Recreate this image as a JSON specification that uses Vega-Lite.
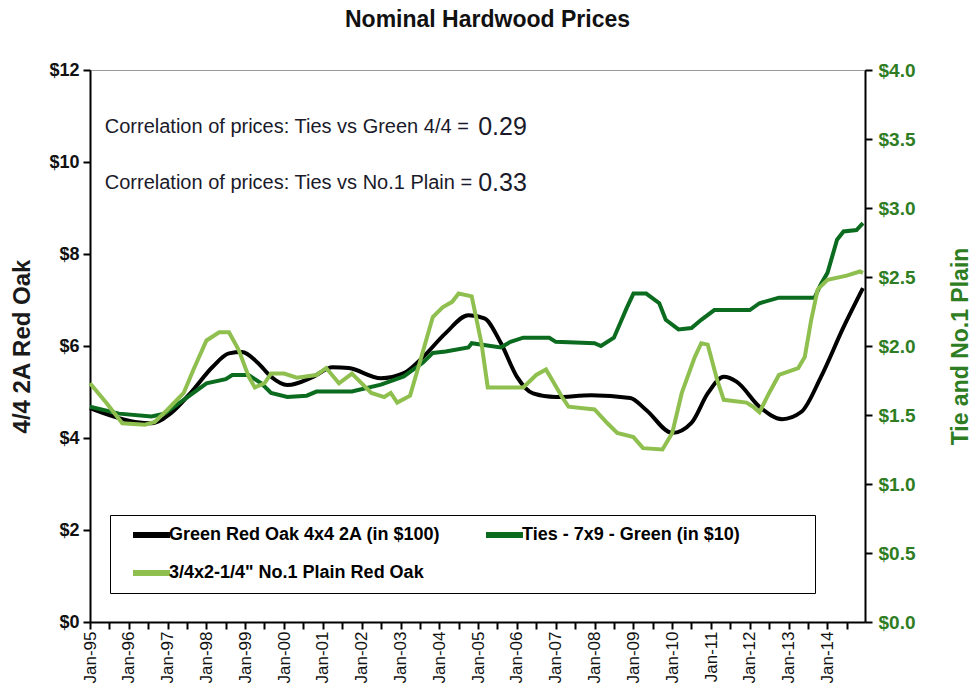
{
  "$schema": "https://vega.github.io/schema/vega-lite/v6.json",
  "width": 775,
  "height": 552,
  "autosize": {"type": "none"},
  "padding": {"left": 90, "top": 70, "right": 112, "bottom": 75},
  "background": "#ffffff",
  "title": {"text": "Nominal Hardwood Prices", "font": "Liberation Sans", "fontSize": 23, "fontWeight": "bold", "color": "#111111", "frame": "group", "anchor": "middle", "offset": 29, "dx": 10},
  "config": {
    "view": {"stroke": "#9a9a9a", "strokeWidth": 1},
    "axis": {"grid": false},
    "legend": {
      "orient": "none", "legendX": 20, "legendY": 445, "direction": "horizontal", "columns": 2,
      "symbolType": "stroke", "symbolSize": 1369, "symbolStrokeWidth": 6, "symbolOffset": 10,
      "labelFont": "Liberation Sans", "labelFontSize": 18, "labelFontWeight": "bold", "labelColor": "#000000",
      "labelOffset": -4, "clipHeight": 20, "rowPadding": 18, "columnPadding": 32, "labelLimit": 500,
      "padding": 10, "strokeColor": "#000000", "fillColor": "#ffffff"
    }
  },
  "datasets": {
    "oak": [
      {"date": "1995/01/01", "value": 4.65, "series": "Green Red Oak 4x4 2A (in $100)"},
      {"date": "1996/03/01", "value": 4.35, "series": "Green Red Oak 4x4 2A (in $100)"},
      {"date": "1996/08/01", "value": 4.32, "series": "Green Red Oak 4x4 2A (in $100)"},
      {"date": "1997/02/01", "value": 4.54, "series": "Green Red Oak 4x4 2A (in $100)"},
      {"date": "1997/08/01", "value": 4.97, "series": "Green Red Oak 4x4 2A (in $100)"},
      {"date": "1998/03/01", "value": 5.55, "series": "Green Red Oak 4x4 2A (in $100)"},
      {"date": "1998/08/01", "value": 5.84, "series": "Green Red Oak 4x4 2A (in $100)"},
      {"date": "1998/12/01", "value": 5.87, "series": "Green Red Oak 4x4 2A (in $100)"},
      {"date": "1999/05/01", "value": 5.63, "series": "Green Red Oak 4x4 2A (in $100)"},
      {"date": "1999/09/01", "value": 5.33, "series": "Green Red Oak 4x4 2A (in $100)"},
      {"date": "2000/02/01", "value": 5.15, "series": "Green Red Oak 4x4 2A (in $100)"},
      {"date": "2000/10/01", "value": 5.33, "series": "Green Red Oak 4x4 2A (in $100)"},
      {"date": "2001/04/01", "value": 5.54, "series": "Green Red Oak 4x4 2A (in $100)"},
      {"date": "2001/09/01", "value": 5.52, "series": "Green Red Oak 4x4 2A (in $100)"},
      {"date": "2002/07/01", "value": 5.30, "series": "Green Red Oak 4x4 2A (in $100)"},
      {"date": "2003/02/01", "value": 5.41, "series": "Green Red Oak 4x4 2A (in $100)"},
      {"date": "2003/08/01", "value": 5.76, "series": "Green Red Oak 4x4 2A (in $100)"},
      {"date": "2004/03/01", "value": 6.28, "series": "Green Red Oak 4x4 2A (in $100)"},
      {"date": "2004/10/01", "value": 6.67, "series": "Green Red Oak 4x4 2A (in $100)"},
      {"date": "2005/03/01", "value": 6.60, "series": "Green Red Oak 4x4 2A (in $100)"},
      {"date": "2005/08/01", "value": 6.07, "series": "Green Red Oak 4x4 2A (in $100)"},
      {"date": "2006/01/01", "value": 5.33, "series": "Green Red Oak 4x4 2A (in $100)"},
      {"date": "2006/06/01", "value": 4.97, "series": "Green Red Oak 4x4 2A (in $100)"},
      {"date": "2007/01/01", "value": 4.89, "series": "Green Red Oak 4x4 2A (in $100)"},
      {"date": "2007/12/01", "value": 4.93, "series": "Green Red Oak 4x4 2A (in $100)"},
      {"date": "2008/12/01", "value": 4.87, "series": "Green Red Oak 4x4 2A (in $100)"},
      {"date": "2009/05/01", "value": 4.61, "series": "Green Red Oak 4x4 2A (in $100)"},
      {"date": "2010/01/01", "value": 4.11, "series": "Green Red Oak 4x4 2A (in $100)"},
      {"date": "2010/07/01", "value": 4.33, "series": "Green Red Oak 4x4 2A (in $100)"},
      {"date": "2010/12/01", "value": 4.97, "series": "Green Red Oak 4x4 2A (in $100)"},
      {"date": "2011/05/01", "value": 5.33, "series": "Green Red Oak 4x4 2A (in $100)"},
      {"date": "2011/09/01", "value": 5.22, "series": "Green Red Oak 4x4 2A (in $100)"},
      {"date": "2012/04/01", "value": 4.68, "series": "Green Red Oak 4x4 2A (in $100)"},
      {"date": "2012/11/01", "value": 4.41, "series": "Green Red Oak 4x4 2A (in $100)"},
      {"date": "2013/05/01", "value": 4.57, "series": "Green Red Oak 4x4 2A (in $100)"},
      {"date": "2013/11/01", "value": 5.33, "series": "Green Red Oak 4x4 2A (in $100)"},
      {"date": "2014/06/01", "value": 6.41, "series": "Green Red Oak 4x4 2A (in $100)"},
      {"date": "2014/12/01", "value": 7.26, "series": "Green Red Oak 4x4 2A (in $100)"}
    ],
    "ties": [
      {"date": "1995/01/01", "value": 1.56, "series": "Ties - 7x9 - Green (in $10)"},
      {"date": "1995/10/01", "value": 1.51, "series": "Ties - 7x9 - Green (in $10)"},
      {"date": "1996/08/01", "value": 1.49, "series": "Ties - 7x9 - Green (in $10)"},
      {"date": "1996/12/01", "value": 1.51, "series": "Ties - 7x9 - Green (in $10)"},
      {"date": "1997/06/01", "value": 1.61, "series": "Ties - 7x9 - Green (in $10)"},
      {"date": "1998/01/01", "value": 1.73, "series": "Ties - 7x9 - Green (in $10)"},
      {"date": "1998/07/01", "value": 1.76, "series": "Ties - 7x9 - Green (in $10)"},
      {"date": "1998/09/01", "value": 1.79, "series": "Ties - 7x9 - Green (in $10)"},
      {"date": "1999/02/01", "value": 1.79, "series": "Ties - 7x9 - Green (in $10)"},
      {"date": "1999/06/01", "value": 1.73, "series": "Ties - 7x9 - Green (in $10)"},
      {"date": "1999/09/01", "value": 1.66, "series": "Ties - 7x9 - Green (in $10)"},
      {"date": "2000/02/01", "value": 1.63, "series": "Ties - 7x9 - Green (in $10)"},
      {"date": "2000/08/01", "value": 1.64, "series": "Ties - 7x9 - Green (in $10)"},
      {"date": "2000/11/01", "value": 1.67, "series": "Ties - 7x9 - Green (in $10)"},
      {"date": "2001/10/01", "value": 1.67, "series": "Ties - 7x9 - Green (in $10)"},
      {"date": "2002/07/01", "value": 1.72, "series": "Ties - 7x9 - Green (in $10)"},
      {"date": "2003/02/01", "value": 1.78, "series": "Ties - 7x9 - Green (in $10)"},
      {"date": "2003/08/01", "value": 1.88, "series": "Ties - 7x9 - Green (in $10)"},
      {"date": "2003/11/01", "value": 1.95, "series": "Ties - 7x9 - Green (in $10)"},
      {"date": "2004/03/01", "value": 1.96, "series": "Ties - 7x9 - Green (in $10)"},
      {"date": "2004/10/01", "value": 1.99, "series": "Ties - 7x9 - Green (in $10)"},
      {"date": "2004/11/01", "value": 2.02, "series": "Ties - 7x9 - Green (in $10)"},
      {"date": "2005/08/01", "value": 1.99, "series": "Ties - 7x9 - Green (in $10)"},
      {"date": "2005/11/01", "value": 2.03, "series": "Ties - 7x9 - Green (in $10)"},
      {"date": "2006/03/01", "value": 2.06, "series": "Ties - 7x9 - Green (in $10)"},
      {"date": "2006/11/01", "value": 2.06, "series": "Ties - 7x9 - Green (in $10)"},
      {"date": "2007/01/01", "value": 2.03, "series": "Ties - 7x9 - Green (in $10)"},
      {"date": "2008/01/01", "value": 2.02, "series": "Ties - 7x9 - Green (in $10)"},
      {"date": "2008/03/01", "value": 2.00, "series": "Ties - 7x9 - Green (in $10)"},
      {"date": "2008/07/01", "value": 2.06, "series": "Ties - 7x9 - Green (in $10)"},
      {"date": "2008/09/01", "value": 2.17, "series": "Ties - 7x9 - Green (in $10)"},
      {"date": "2008/11/01", "value": 2.28, "series": "Ties - 7x9 - Green (in $10)"},
      {"date": "2009/01/01", "value": 2.38, "series": "Ties - 7x9 - Green (in $10)"},
      {"date": "2009/05/01", "value": 2.38, "series": "Ties - 7x9 - Green (in $10)"},
      {"date": "2009/09/01", "value": 2.31, "series": "Ties - 7x9 - Green (in $10)"},
      {"date": "2009/11/01", "value": 2.19, "series": "Ties - 7x9 - Green (in $10)"},
      {"date": "2010/03/01", "value": 2.12, "series": "Ties - 7x9 - Green (in $10)"},
      {"date": "2010/07/01", "value": 2.13, "series": "Ties - 7x9 - Green (in $10)"},
      {"date": "2010/10/01", "value": 2.19, "series": "Ties - 7x9 - Green (in $10)"},
      {"date": "2011/02/01", "value": 2.26, "series": "Ties - 7x9 - Green (in $10)"},
      {"date": "2012/01/01", "value": 2.26, "series": "Ties - 7x9 - Green (in $10)"},
      {"date": "2012/04/01", "value": 2.31, "series": "Ties - 7x9 - Green (in $10)"},
      {"date": "2012/10/01", "value": 2.35, "series": "Ties - 7x9 - Green (in $10)"},
      {"date": "2013/09/01", "value": 2.35, "series": "Ties - 7x9 - Green (in $10)"},
      {"date": "2013/11/01", "value": 2.45, "series": "Ties - 7x9 - Green (in $10)"},
      {"date": "2014/01/01", "value": 2.53, "series": "Ties - 7x9 - Green (in $10)"},
      {"date": "2014/04/01", "value": 2.77, "series": "Ties - 7x9 - Green (in $10)"},
      {"date": "2014/06/01", "value": 2.83, "series": "Ties - 7x9 - Green (in $10)"},
      {"date": "2014/10/01", "value": 2.84, "series": "Ties - 7x9 - Green (in $10)"},
      {"date": "2014/12/01", "value": 2.89, "series": "Ties - 7x9 - Green (in $10)"}
    ],
    "plain": [
      {"date": "1995/01/01", "value": 1.73, "series": "3/4x2-1/4\" No.1 Plain Red Oak"},
      {"date": "1995/06/01", "value": 1.59, "series": "3/4x2-1/4\" No.1 Plain Red Oak"},
      {"date": "1995/11/01", "value": 1.44, "series": "3/4x2-1/4\" No.1 Plain Red Oak"},
      {"date": "1996/06/01", "value": 1.43, "series": "3/4x2-1/4\" No.1 Plain Red Oak"},
      {"date": "1996/09/01", "value": 1.45, "series": "3/4x2-1/4\" No.1 Plain Red Oak"},
      {"date": "1997/01/01", "value": 1.54, "series": "3/4x2-1/4\" No.1 Plain Red Oak"},
      {"date": "1997/06/01", "value": 1.66, "series": "3/4x2-1/4\" No.1 Plain Red Oak"},
      {"date": "1997/09/01", "value": 1.83, "series": "3/4x2-1/4\" No.1 Plain Red Oak"},
      {"date": "1998/01/01", "value": 2.04, "series": "3/4x2-1/4\" No.1 Plain Red Oak"},
      {"date": "1998/05/01", "value": 2.10, "series": "3/4x2-1/4\" No.1 Plain Red Oak"},
      {"date": "1998/08/01", "value": 2.10, "series": "3/4x2-1/4\" No.1 Plain Red Oak"},
      {"date": "1998/11/01", "value": 1.97, "series": "3/4x2-1/4\" No.1 Plain Red Oak"},
      {"date": "1999/02/01", "value": 1.78, "series": "3/4x2-1/4\" No.1 Plain Red Oak"},
      {"date": "1999/04/01", "value": 1.70, "series": "3/4x2-1/4\" No.1 Plain Red Oak"},
      {"date": "1999/07/01", "value": 1.73, "series": "3/4x2-1/4\" No.1 Plain Red Oak"},
      {"date": "1999/09/01", "value": 1.80, "series": "3/4x2-1/4\" No.1 Plain Red Oak"},
      {"date": "2000/01/01", "value": 1.80, "series": "3/4x2-1/4\" No.1 Plain Red Oak"},
      {"date": "2000/05/01", "value": 1.77, "series": "3/4x2-1/4\" No.1 Plain Red Oak"},
      {"date": "2000/11/01", "value": 1.79, "series": "3/4x2-1/4\" No.1 Plain Red Oak"},
      {"date": "2001/02/01", "value": 1.84, "series": "3/4x2-1/4\" No.1 Plain Red Oak"},
      {"date": "2001/06/01", "value": 1.73, "series": "3/4x2-1/4\" No.1 Plain Red Oak"},
      {"date": "2001/10/01", "value": 1.80, "series": "3/4x2-1/4\" No.1 Plain Red Oak"},
      {"date": "2002/04/01", "value": 1.66, "series": "3/4x2-1/4\" No.1 Plain Red Oak"},
      {"date": "2002/08/01", "value": 1.63, "series": "3/4x2-1/4\" No.1 Plain Red Oak"},
      {"date": "2002/10/01", "value": 1.66, "series": "3/4x2-1/4\" No.1 Plain Red Oak"},
      {"date": "2002/12/01", "value": 1.59, "series": "3/4x2-1/4\" No.1 Plain Red Oak"},
      {"date": "2003/04/01", "value": 1.64, "series": "3/4x2-1/4\" No.1 Plain Red Oak"},
      {"date": "2003/07/01", "value": 1.88, "series": "3/4x2-1/4\" No.1 Plain Red Oak"},
      {"date": "2003/11/01", "value": 2.21, "series": "3/4x2-1/4\" No.1 Plain Red Oak"},
      {"date": "2004/02/01", "value": 2.28, "series": "3/4x2-1/4\" No.1 Plain Red Oak"},
      {"date": "2004/05/01", "value": 2.32, "series": "3/4x2-1/4\" No.1 Plain Red Oak"},
      {"date": "2004/07/01", "value": 2.38, "series": "3/4x2-1/4\" No.1 Plain Red Oak"},
      {"date": "2004/11/01", "value": 2.36, "series": "3/4x2-1/4\" No.1 Plain Red Oak"},
      {"date": "2005/02/01", "value": 2.02, "series": "3/4x2-1/4\" No.1 Plain Red Oak"},
      {"date": "2005/04/01", "value": 1.70, "series": "3/4x2-1/4\" No.1 Plain Red Oak"},
      {"date": "2006/03/01", "value": 1.70, "series": "3/4x2-1/4\" No.1 Plain Red Oak"},
      {"date": "2006/07/01", "value": 1.79, "series": "3/4x2-1/4\" No.1 Plain Red Oak"},
      {"date": "2006/10/01", "value": 1.83, "series": "3/4x2-1/4\" No.1 Plain Red Oak"},
      {"date": "2006/12/01", "value": 1.75, "series": "3/4x2-1/4\" No.1 Plain Red Oak"},
      {"date": "2007/03/01", "value": 1.63, "series": "3/4x2-1/4\" No.1 Plain Red Oak"},
      {"date": "2007/05/01", "value": 1.56, "series": "3/4x2-1/4\" No.1 Plain Red Oak"},
      {"date": "2008/01/01", "value": 1.54, "series": "3/4x2-1/4\" No.1 Plain Red Oak"},
      {"date": "2008/05/01", "value": 1.44, "series": "3/4x2-1/4\" No.1 Plain Red Oak"},
      {"date": "2008/08/01", "value": 1.37, "series": "3/4x2-1/4\" No.1 Plain Red Oak"},
      {"date": "2009/01/01", "value": 1.34, "series": "3/4x2-1/4\" No.1 Plain Red Oak"},
      {"date": "2009/04/01", "value": 1.26, "series": "3/4x2-1/4\" No.1 Plain Red Oak"},
      {"date": "2009/10/01", "value": 1.25, "series": "3/4x2-1/4\" No.1 Plain Red Oak"},
      {"date": "2010/01/01", "value": 1.37, "series": "3/4x2-1/4\" No.1 Plain Red Oak"},
      {"date": "2010/04/01", "value": 1.66, "series": "3/4x2-1/4\" No.1 Plain Red Oak"},
      {"date": "2010/08/01", "value": 1.92, "series": "3/4x2-1/4\" No.1 Plain Red Oak"},
      {"date": "2010/10/01", "value": 2.02, "series": "3/4x2-1/4\" No.1 Plain Red Oak"},
      {"date": "2010/12/01", "value": 2.01, "series": "3/4x2-1/4\" No.1 Plain Red Oak"},
      {"date": "2011/03/01", "value": 1.75, "series": "3/4x2-1/4\" No.1 Plain Red Oak"},
      {"date": "2011/05/01", "value": 1.61, "series": "3/4x2-1/4\" No.1 Plain Red Oak"},
      {"date": "2011/12/01", "value": 1.59, "series": "3/4x2-1/4\" No.1 Plain Red Oak"},
      {"date": "2012/02/01", "value": 1.56, "series": "3/4x2-1/4\" No.1 Plain Red Oak"},
      {"date": "2012/04/01", "value": 1.52, "series": "3/4x2-1/4\" No.1 Plain Red Oak"},
      {"date": "2012/07/01", "value": 1.66, "series": "3/4x2-1/4\" No.1 Plain Red Oak"},
      {"date": "2012/10/01", "value": 1.79, "series": "3/4x2-1/4\" No.1 Plain Red Oak"},
      {"date": "2013/04/01", "value": 1.84, "series": "3/4x2-1/4\" No.1 Plain Red Oak"},
      {"date": "2013/06/01", "value": 1.92, "series": "3/4x2-1/4\" No.1 Plain Red Oak"},
      {"date": "2013/08/01", "value": 2.19, "series": "3/4x2-1/4\" No.1 Plain Red Oak"},
      {"date": "2013/10/01", "value": 2.41, "series": "3/4x2-1/4\" No.1 Plain Red Oak"},
      {"date": "2014/01/01", "value": 2.48, "series": "3/4x2-1/4\" No.1 Plain Red Oak"},
      {"date": "2014/07/01", "value": 2.51, "series": "3/4x2-1/4\" No.1 Plain Red Oak"},
      {"date": "2014/11/01", "value": 2.54, "series": "3/4x2-1/4\" No.1 Plain Red Oak"},
      {"date": "2014/12/01", "value": 2.53, "series": "3/4x2-1/4\" No.1 Plain Red Oak"}
    ],
    "notes": [
      {"date": "1995/05/20", "value": 10.76, "label": "Correlation of prices: Ties vs Green 4/4 ="},
      {"date": "1995/05/20", "value": 9.54, "label": "Correlation of prices: Ties vs No.1 Plain ="}
    ],
    "nums": [
      {"date": "2005/01/01", "value": 10.76, "label": "0.29"},
      {"date": "2005/01/01", "value": 9.54, "label": "0.33"}
    ]
  },
  "encoding": {
    "x": {
      "field": "date", "type": "temporal",
      "scale": {"domain": [{"year": 1995, "month": 1, "date": 1}, {"year": 2014, "month": 12, "date": 20}]},
      "axis": {
        "title": null, "grid": false,
        "tickCount": {"interval": "month", "step": 6},
        "labelExpr": "month(datum.value) == 0 ? timeFormat(datum.value, '%b-%y') : ''",
        "labelAngle": 270, "labelFont": "Liberation Sans", "labelFontSize": 17, "labelColor": "#111111",
        "labelOverlap": false, "labelFlush": false, "labelPadding": 2,
        "tickColor": "#000000", "tickWidth": 2, "tickSize": 7,
        "domainColor": "#000000", "domainWidth": 2
      }
    }
  },
  "layer": [
    {
      "layer": [
        {
          "data": {"name": "oak"},
          "mark": {"type": "line", "interpolate": "monotone", "strokeWidth": 4},
          "encoding": {
            "y": {
              "field": "value", "type": "quantitative",
              "scale": {"domain": [0, 12], "nice": false},
              "axis": {
                "orient": "left", "title": "4/4 2A Red Oak", "values": [0, 2, 4, 6, 8, 10, 12], "format": "$.0f",
                "labelFont": "Liberation Sans", "labelFontSize": 18, "labelFontWeight": "bold", "labelColor": "#111111",
                "labelPadding": 4,
                "titleFont": "Liberation Sans", "titleFontSize": 24, "titleFontWeight": "bold", "titleColor": "#1a1a1a",
                "titlePadding": 14, "titleAngle": 270,
                "tickColor": "#000000", "tickWidth": 2, "tickSize": 7,
                "domainColor": "#000000", "domainWidth": 2, "grid": false
              }
            },
            "color": {
              "field": "series", "type": "nominal",
              "scale": {"domain": ["Green Red Oak 4x4 2A (in $100)", "Ties - 7x9 - Green (in $10)", "3/4x2-1/4\" No.1 Plain Red Oak"], "range": ["#000000", "#0b6b1f", "#8fc04f"]},
              "legend": {"title": null, "labelExpr": "datum.label == 'Ties - 7x9 - Green (in $10)' ? datum.label + '\u2800\u2800\u2800\u2800\u2800' : datum.label"}
            }
          }
        },
        {
          "data": {"name": "notes"},
          "mark": {"type": "text", "align": "left", "baseline": "middle", "font": "Liberation Sans", "fontSize": 20, "color": "#1a1a2a"},
          "encoding": {
            "y": {"field": "value", "type": "quantitative", "scale": {"domain": [0, 12], "nice": false}},
            "text": {"field": "label"}
          }
        },
        {
          "data": {"name": "nums"},
          "mark": {"type": "text", "align": "left", "baseline": "middle", "font": "Liberation Sans Narrow, Liberation Sans", "fontSize": 25, "color": "#1a1a2a"},
          "encoding": {
            "y": {"field": "value", "type": "quantitative", "scale": {"domain": [0, 12], "nice": false}},
            "text": {"field": "label"}
          }
        }
      ]
    },
    {
      "layer": [
        {
          "data": {"name": "ties"},
          "mark": {"type": "line", "strokeWidth": 4},
          "encoding": {
            "y": {
              "field": "value", "type": "quantitative",
              "scale": {"domain": [0, 4], "nice": false},
              "axis": {
                "orient": "right", "title": "Tie  and  No.1 Plain", "values": [0, 0.5, 1, 1.5, 2, 2.5, 3, 3.5, 4], "format": "$.1f",
                "labelFont": "Liberation Sans", "labelFontSize": 19, "labelFontWeight": "bold", "labelColor": "#2e7d22",
                "labelPadding": 6,
                "titleFont": "Liberation Sans", "titleFontSize": 23, "titleFontWeight": "bold", "titleColor": "#2e7d22",
                "titlePadding": 58, "titleAngle": 270,
                "tickColor": "#000000", "tickWidth": 2, "tickSize": 7,
                "domainColor": "#000000", "domainWidth": 2, "grid": false
              }
            },
            "color": {
              "field": "series", "type": "nominal",
              "scale": {"domain": ["Green Red Oak 4x4 2A (in $100)", "Ties - 7x9 - Green (in $10)", "3/4x2-1/4\" No.1 Plain Red Oak"], "range": ["#000000", "#0b6b1f", "#8fc04f"]}
            }
          }
        },
        {
          "data": {"name": "plain"},
          "mark": {"type": "line", "strokeWidth": 4},
          "encoding": {
            "y": {"field": "value", "type": "quantitative", "scale": {"domain": [0, 4], "nice": false}},
            "color": {
              "field": "series", "type": "nominal",
              "scale": {"domain": ["Green Red Oak 4x4 2A (in $100)", "Ties - 7x9 - Green (in $10)", "3/4x2-1/4\" No.1 Plain Red Oak"], "range": ["#000000", "#0b6b1f", "#8fc04f"]}
            }
          }
        }
      ]
    }
  ],
  "resolve": {"scale": {"y": "independent"}}
}
